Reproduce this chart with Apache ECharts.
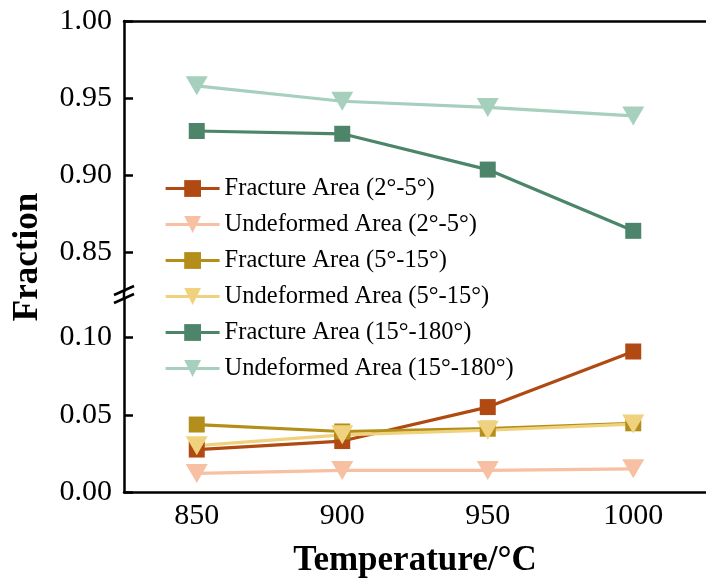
<!DOCTYPE html>
<html>
<head>
<meta charset="utf-8">
<script src="https://cdn.jsdelivr.net/npm/echarts@6/dist/echarts.min.js"></script>
<style>
  html, body { margin: 0; padding: 0; background: #fff; }
  #chart { width: 706px; height: 579px; }
</style>
</head>
<body>
<div id="chart"></div>
<script>
// temperatures on the x axis
var temps = ['850', '900', '950', '1000'];
var lowTicks = [0, 0.05, 0.10];
var highTicks = [0.85, 0.90, 0.95, 1.00];

// fractions
var fracture2_5 = [0.0275, 0.033, 0.055, 0.091];
var undeformed2_5 = [0.012, 0.014, 0.014, 0.015];
var fracture5_15 = [0.0437, 0.0392, 0.041, 0.0445];
var undeformed5_15 = [0.030, 0.037, 0.040, 0.044];
var fracture15_180 = [0.9287, 0.9269, 0.9037, 0.8640];
var undeformed15_180 = [0.958, 0.948, 0.944, 0.9385];

var FONT = '"Liberation Serif", "Times New Roman", serif';

var chart = echarts.init(document.getElementById('chart'));

function mk(name, data, color, tri, grid) {
  return {
    name: name,
    type: 'line',
    xAxisIndex: grid,
    yAxisIndex: grid,
    data: data,
    symbol: tri ? 'triangle' : 'rect',
    symbolSize: tri ? [22, 19] : 16,
    symbolRotate: tri ? 180 : 0,
    showAllSymbol: true,
    lineStyle: { color: color, width: 3.2 },
    itemStyle: { color: color },
    emphasis: { disabled: true },
    animation: false
  };
}

function yAxis(grid, min, max, ticks) {
  return {
    type: 'value',
    gridIndex: grid,
    min: min,
    max: max,
    splitLine: { show: false },
    axisLine: { show: true, lineStyle: { color: '#000', width: 2.5 } },
    axisTick: { show: true, inside: true, length: 9, customValues: ticks,
      lineStyle: { color: '#000', width: 2.5 } },
    axisLabel: { customValues: ticks, margin: 12, color: '#000',
      fontFamily: FONT, fontSize: 30,
      formatter: function (v) { return v.toFixed(2); } }
  };
}

chart.setOption({
  backgroundColor: '#fff',
  grid: [
    { left: 124, right: -2, top: 21, height: 270 },
    { left: 124, right: -2, top: 299, height: 193 }
  ],
  xAxis: [
    {
      type: 'category', gridIndex: 0, data: temps, position: 'top',
      axisLine: { show: true, lineStyle: { color: '#000', width: 2.5 } },
      axisTick: { show: false }, axisLabel: { show: false }
    },
    {
      type: 'category', gridIndex: 1, data: temps,
      name: 'Temperature/°C', nameLocation: 'middle', nameGap: 51,
      nameTextStyle: { fontFamily: FONT, fontSize: 35, fontWeight: 'bold', color: '#000' },
      axisLine: { show: true, lineStyle: { color: '#000', width: 2.5 } },
      axisTick: { show: false },
      axisLabel: { margin: 9, color: '#000', fontFamily: FONT, fontSize: 30 }
    }
  ],
  yAxis: [
    yAxis(0, 0.825, 1.0, highTicks),
    yAxis(1, 0, 0.125, lowTicks)
  ],
  legend: {
    orient: 'vertical',
    left: 159,
    top: 171,
    itemWidth: 54,
    itemHeight: 21,
    itemGap: 11,
    selectedMode: false,
    lineStyle: { width: 3.2 },
    textStyle: { fontFamily: FONT, fontSize: 24.5, color: '#000' },
    data: ['Fracture Area (2°-5°)', 'Undeformed Area (2°-5°)', 'Fracture Area (5°-15°)',
      'Undeformed Area (5°-15°)', 'Fracture Area (15°-180°)', 'Undeformed Area (15°-180°)']
  },
  graphic: [
    { type: 'text', x: 28, y: 257, rotation: Math.PI / 2,
      style: { text: 'Fraction', font: 'bold 35px ' + FONT, align: 'center', verticalAlign: 'middle', fill: '#000' } },
    { type: 'line', shape: { x1: 124, y1: 290, x2: 124, y2: 300 }, style: { stroke: '#000', lineWidth: 2.5 } },
    { type: 'line', shape: { x1: 114, y1: 295, x2: 134, y2: 286 }, style: { stroke: '#000', lineWidth: 2.5 } },
    { type: 'line', shape: { x1: 114, y1: 303, x2: 134, y2: 294 }, style: { stroke: '#000', lineWidth: 2.5 } }
  ],
  series: [
    mk('Fracture Area (2°-5°)', fracture2_5, '#B04A12', false, 1),
    mk('Undeformed Area (2°-5°)', undeformed2_5, '#F7C0A2', true, 1),
    mk('Fracture Area (5°-15°)', fracture5_15, '#B48E1A', false, 1),
    mk('Undeformed Area (5°-15°)', undeformed5_15, '#F0D27E', true, 1),
    mk('Fracture Area (15°-180°)', fracture15_180, '#4C8569', false, 0),
    mk('Undeformed Area (15°-180°)', undeformed15_180, '#A6CFBD', true, 0)
  ]
});
</script>
</body>
</html>
